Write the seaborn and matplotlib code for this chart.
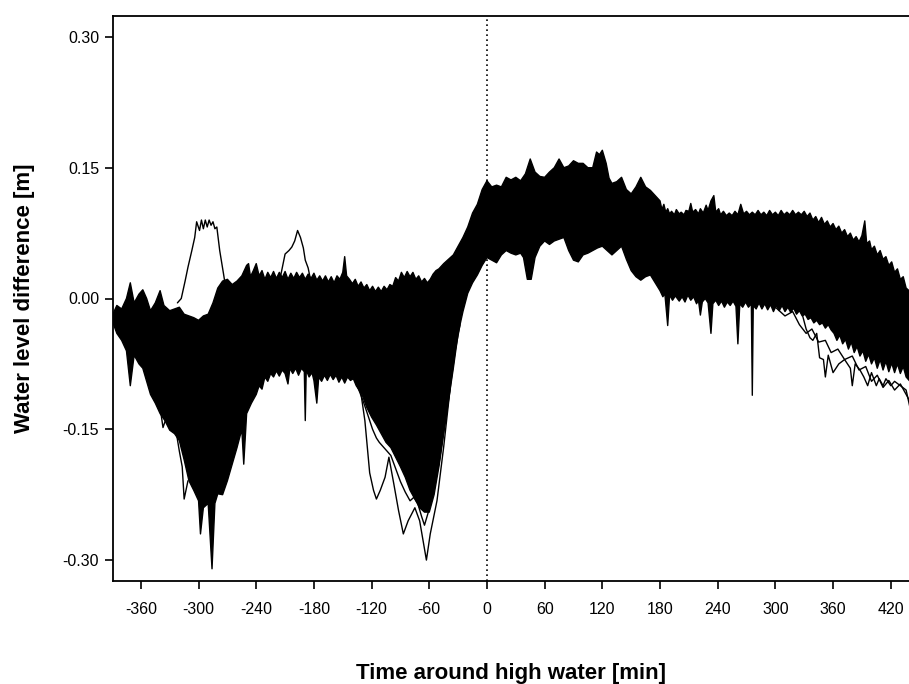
import numpy as np
import pandas as pd
import matplotlib
matplotlib.use("Agg")
import matplotlib.pyplot as plt
import seaborn as sns

# ---------------- data ----------------
# upper edge of the dense band of traces  (time [min], level [m])
band_upper_t = [-390, -385, -380, -375, -371, -367, -362, -358, -354, -350, -345, -340, -336, -330,
                -325, -320, -315, -310, -305, -300, -295, -290, -285, -280, -275, -270, -265, -260,
                -255, -250, -248, -246, -243, -240, -237, -234, -231, -228, -225, -222, -219, -216,
                -213, -210, -207, -204, -201, -198, -195, -192, -189, -186, -183, -180, -177, -174,
                -171, -168, -165, -162, -159, -156, -153, -150, -148, -146, -143, -140, -137, -134,
                -131, -128, -125, -122, -119, -116, -113, -110, -107, -104, -101, -98, -95, -92, -89,
                -86, -83, -80, -77, -74, -71, -68, -65, -62, -59, -56, -53, -50, -45,
                -40, -35, -30, -25, -20, -15, -10, -5, 0, 5, 10, 15, 20, 25, 30, 35, 40, 45, 50, 55,
                60, 65, 70, 75, 80, 85, 90, 95, 100, 105, 110, 114, 117, 120, 124, 127, 130, 135,
                140, 145, 150, 155, 160, 165, 170, 175,
                180, 182, 184, 186, 188, 190, 192, 195, 197, 200, 202, 205, 207, 210, 212, 214, 217,
                220, 222, 225, 228, 230, 233, 236, 238, 241, 243, 246, 249, 252, 255, 258, 261, 264,
                267, 270, 273, 276, 279, 282, 285, 288, 291, 294, 297, 300, 303, 306, 309, 312, 315,
                318, 321, 324, 327, 330, 333, 336, 339, 342, 345, 348, 351, 354, 357, 360, 363, 366,
                369, 372, 375, 378, 381, 384, 387, 390, 393, 395, 398, 400, 403, 406, 409, 412, 415,
                418, 421, 424, 427, 430, 433, 436, 440]
band_upper_v = [-0.020, -0.008, -0.012, 0.000, 0.018, -0.005, 0.005, 0.010, 0.000, -0.014, -0.005,
                0.009, -0.008, -0.014, -0.012, -0.010, -0.018, -0.020, -0.022, -0.025, -0.020, -0.018,
                -0.005, 0.012, 0.020, 0.022, 0.016, 0.020, 0.026,
                0.038, 0.040, 0.025, 0.032, 0.040, 0.026, 0.032, 0.022, 0.030, 0.024, 0.031, 0.023,
                0.030, 0.024, 0.031, 0.022, 0.029, 0.023, 0.030, 0.024, 0.029, 0.022, 0.028, 0.023,
                0.029, 0.021, 0.026, 0.020, 0.026, 0.019, 0.025, 0.018, 0.026, 0.022, 0.030, 0.048,
                0.026, 0.022, 0.017, 0.022, 0.014, 0.019, 0.012, 0.016, 0.009, 0.014, 0.008, 0.013,
                0.008, 0.014, 0.010, 0.016, 0.014, 0.024, 0.020, 0.030, 0.024, 0.031, 0.025, 0.030,
                0.022, 0.026, 0.019, 0.023, 0.018, 0.022, 0.028, 0.032, 0.034, 0.040,
                0.045, 0.050, 0.060, 0.070, 0.082, 0.098, 0.108, 0.125, 0.135, 0.128,
                0.130, 0.128, 0.139, 0.136, 0.139, 0.135, 0.143, 0.160, 0.145, 0.140, 0.139, 0.145,
                0.150, 0.160, 0.150, 0.152, 0.158, 0.155, 0.155, 0.150, 0.150, 0.168, 0.165, 0.170,
                0.155, 0.138, 0.132, 0.134, 0.139, 0.125, 0.120, 0.128, 0.139, 0.128, 0.124, 0.118,
                0.112, 0.102, 0.108, 0.099, 0.103, 0.097, 0.100, 0.096, 0.102, 0.097, 0.099, 0.096,
                0.101, 0.100, 0.109, 0.099, 0.102, 0.097, 0.103, 0.098, 0.107, 0.101, 0.112, 0.118,
                0.099, 0.103, 0.096, 0.100, 0.095, 0.098, 0.095, 0.100, 0.096, 0.108, 0.097, 0.100,
                0.096, 0.099, 0.096, 0.101, 0.096, 0.099, 0.095, 0.101, 0.096, 0.099, 0.095, 0.101,
                0.096, 0.099, 0.096, 0.101, 0.096, 0.099, 0.096, 0.100, 0.094, 0.098, 0.090, 0.094,
                0.087, 0.093, 0.085, 0.089, 0.082, 0.086, 0.079, 0.083, 0.075, 0.079, 0.071, 0.075,
                0.067, 0.071, 0.065, 0.072, 0.089, 0.063, 0.066, 0.056, 0.060, 0.050, 0.055, 0.045,
                0.048, 0.038, 0.042, 0.030, 0.034, 0.022, 0.025, 0.012, 0.008]

# lower edge of the dense band of traces
band_lower_t = [-390, -385, -380, -375, -371, -367, -362, -358, -354, -350, -345, -340, -335, -330,
                -325, -320, -315, -310, -305, -300, -298, -295, -290, -286, -283, -280, -275, -270,
                -265, -260, -255, -253, -250, -245,
                -240, -237, -234, -231, -228, -225, -222, -219, -216, -213, -210, -207, -205, -202,
                -199, -196, -193, -190, -189, -188, -185, -182, -180, -177, -175, -172, -169, -166,
                -163, -160, -157, -154, -151, -148, -145, -142, -139, -136,
                -130, -125, -120, -115, -110, -105, -100, -95, -90, -85, -80, -75,
                -70, -65, -60, -55, -50, -45, -40, -35, -30, -25, -20, -15, -10, -5, 0, 5, 10, 15, 20,
                25, 30, 35, 38, 42, 46, 50, 55, 60, 65, 70, 75, 80, 85, 90, 95, 100, 105, 110, 115,
                120, 125, 130, 135, 140, 145, 150, 155, 160, 165, 170, 175,
                180, 183, 185, 188, 190, 193, 196, 200, 203, 206, 209, 212, 215, 218, 220, 222, 224,
                227, 230, 233, 235, 238, 241, 244, 247, 250, 253, 256, 259, 261, 263, 266, 269, 272,
                275, 276, 277, 280, 283, 286, 289, 292, 295, 298, 301, 304, 307, 310, 313, 316, 319,
                322, 325, 328, 331, 334, 337, 340, 343, 346, 349, 352, 355, 358, 361, 364, 367, 370,
                373, 376, 379, 382, 385, 388, 391, 394, 397, 400, 403, 406, 409, 412, 415, 418, 421,
                424, 427, 430, 433, 436, 440]
band_lower_v = [-0.025, -0.040, -0.048, -0.060, -0.100, -0.065, -0.075, -0.080, -0.095, -0.110,
                -0.120, -0.132, -0.140, -0.151, -0.155, -0.163, -0.185, -0.209, -0.220, -0.232,
                -0.270, -0.240, -0.235, -0.310, -0.235, -0.224, -0.225, -0.209, -0.190, -0.171,
                -0.150, -0.190, -0.132, -0.120,
                -0.110, -0.100, -0.104, -0.090, -0.095, -0.086, -0.090, -0.083, -0.089, -0.082,
                -0.086, -0.098, -0.080, -0.086, -0.080, -0.088, -0.080, -0.084, -0.140, -0.082,
                -0.090, -0.085, -0.094, -0.120, -0.090, -0.095, -0.088, -0.094, -0.087, -0.093,
                -0.088, -0.096, -0.090, -0.097, -0.090, -0.094, -0.092, -0.100,
                -0.110, -0.125, -0.136, -0.145, -0.155, -0.165, -0.171, -0.182, -0.193, -0.205,
                -0.220, -0.230, -0.240, -0.245, -0.245, -0.225, -0.193, -0.155, -0.117, -0.080,
                -0.040, -0.015, 0.006, 0.018, 0.027, 0.038, 0.047, 0.044, 0.041, 0.050, 0.055, 0.052,
                0.050, 0.052, 0.047, 0.022, 0.022, 0.047, 0.060, 0.066, 0.062, 0.066, 0.068, 0.070,
                0.055, 0.044, 0.042, 0.050, 0.052, 0.055, 0.058, 0.060, 0.055, 0.050, 0.055, 0.060,
                0.045, 0.032, 0.025, 0.021, 0.025, 0.027, 0.018,
                0.009, 0.002, 0.006, -0.031, 0.004, -0.002, 0.003, -0.003, 0.002, -0.004, 0.004,
                -0.002, 0.002, -0.006, -0.002, -0.019, -0.004, 0.000, -0.005, -0.040, -0.006, -0.002,
                -0.008, -0.003, -0.010, -0.004, -0.008, -0.003, -0.009, -0.052, -0.006, -0.010,
                -0.004, -0.010, -0.006, -0.111, -0.008, -0.012, -0.005, -0.012, -0.006, -0.013,
                -0.007, -0.015, -0.008, -0.014, -0.008, -0.015, -0.010, -0.016, -0.011, -0.018,
                -0.014, -0.020, -0.018, -0.024, -0.022, -0.028, -0.025, -0.030, -0.028, -0.034,
                -0.030, -0.036, -0.040, -0.048, -0.042, -0.052, -0.047, -0.058, -0.050,
                -0.062, -0.055, -0.066, -0.060, -0.072, -0.064, -0.075, -0.068, -0.080, -0.070,
                -0.082, -0.072, -0.084, -0.074, -0.085, -0.075, -0.086, -0.078, -0.090, -0.095]

# individual traces that leave the band
bump_early_t = [-322, -318, -314, -311, -307, -304, -302, -299, -297, -295, -293, -291, -289, -287,
                -285, -283, -281, -278, -274, -270]
bump_early_v = [-0.005, 0.000, 0.020, 0.036, 0.055, 0.070, 0.088, 0.078, 0.090, 0.080, 0.090, 0.082,
                0.090, 0.084, 0.088, 0.080, 0.082, 0.055, 0.028, 0.000]

bump_mid_t = [-220, -215, -210, -206, -203, -200, -197, -194, -191, -189, -186, -184, -180]
bump_mid_v = [0.010, 0.024, 0.051, 0.055, 0.059, 0.066, 0.078, 0.070, 0.058, 0.044, 0.035, 0.024, 0.015]

dip_a_t = [-140, -132, -127, -122, -118, -115, -111, -106, -102, -97, -92, -87, -82, -75, -70, -63,
           -59, -52, -45, -38, -33, -28]
dip_a_v = [-0.080, -0.102, -0.140, -0.200, -0.220, -0.230, -0.220, -0.205, -0.182, -0.212, -0.243,
           -0.270, -0.255, -0.240, -0.255, -0.300, -0.270, -0.232, -0.170, -0.100, -0.060, -0.030]

dip_b_t = [-140, -135, -129, -125, -119, -115, -112, -108, -104, -100, -95, -90, -85, -80, -76, -72,
           -68, -65, -61, -58, -54, -50, -46, -42, -38]
dip_b_v = [-0.085, -0.100, -0.117, -0.130, -0.150, -0.160, -0.165, -0.170, -0.175, -0.180, -0.195,
           -0.210, -0.222, -0.232, -0.228, -0.235, -0.250, -0.260, -0.245, -0.230, -0.210, -0.190,
           -0.160, -0.130, -0.100]

early_low_t = [-385, -382, -378, -373, -367, -361, -354, -347, -340, -337, -333, -330, -326, -323,
               -320, -317, -315, -311]
early_low_v = [-0.010, -0.020, -0.040, -0.067, -0.050, -0.060, -0.071, -0.105, -0.125, -0.148, -0.135,
               -0.140, -0.150, -0.155, -0.175, -0.193, -0.230, -0.209]

tail_a_t = [320, 326, 332, 336, 339, 343, 346, 350, 352, 355, 360, 366, 372, 378, 380, 383, 388,
            392, 396, 400, 405, 408, 412, 415, 420, 424, 430, 436, 440]
tail_a_v = [-0.012, -0.010, -0.035, -0.045, -0.048, -0.040, -0.068, -0.070, -0.090, -0.065, -0.085,
            -0.075, -0.070, -0.080, -0.100, -0.075, -0.082, -0.090, -0.100, -0.085, -0.100, -0.092,
            -0.100, -0.092, -0.100, -0.095, -0.100, -0.105, -0.125]

tail_b_t = [300, 310, 318, 325, 332, 338, 345, 352, 358, 365, 372, 380, 387, 394, 400, 406, 412,
            418, 424, 430, 436, 440]
tail_b_v = [-0.010, -0.020, -0.015, -0.030, -0.040, -0.035, -0.050, -0.048, -0.062, -0.058, -0.070,
            -0.066, -0.082, -0.078, -0.095, -0.088, -0.102, -0.094, -0.105, -0.098, -0.110, -0.118]

x_ticks = [-360, -300, -240, -180, -120, -60, 0, 60, 120, 180, 240, 300, 360, 420]
y_ticks = [-0.30, -0.15, 0.00, 0.15, 0.30]
y_tick_labels = ["-0.30", "-0.15", "0.00", "0.15", "0.30"]
x_label = "Time around high water [min]"
y_label = "Water level difference [m]"

# ---------------- figure ----------------
sns.set_theme(style="ticks")
plt.rcParams["font.family"] = ["Liberation Sans", "DejaVu Sans"]

fig = plt.figure(figsize=(9.09, 6.84), dpi=100)
ax = fig.add_axes([113 / 909, 103 / 684, 796 / 909, 565 / 684])

# dense band
poly_t = np.concatenate([band_upper_t, band_lower_t[::-1]])
poly_v = np.concatenate([band_upper_v, band_lower_v[::-1]])
ax.fill(poly_t, poly_v, color="black", lw=0)

traces = {
    "upper": (band_upper_t, band_upper_v),
    "lower": (band_lower_t, band_lower_v),
    "bump_early": (bump_early_t, bump_early_v),
    "bump_mid": (bump_mid_t, bump_mid_v),
    "dip_a": (dip_a_t, dip_a_v),
    "dip_b": (dip_b_t, dip_b_v),
    "early_low": (early_low_t, early_low_v),
    "tail_a": (tail_a_t, tail_a_v),
    "tail_b": (tail_b_t, tail_b_v),
}
frames = []
for name, (t, v) in traces.items():
    frames.append(pd.DataFrame({"t": t, "v": v, "trace": name}))
df = pd.concat(frames, ignore_index=True)
sns.lineplot(data=df, x="t", y="v", units="trace", estimator=None, sort=False,
             color="black", lw=1.0, ax=ax, legend=False)

ax.axvline(0, color="black", lw=1.2, ls=(0, (1, 2)))

ax.set_xlim(-389, 439)
ax.set_ylim(-0.324, 0.324)
ax.set_xticks(x_ticks)
ax.set_xticklabels([str(v) for v in x_ticks])
ax.set_yticks(y_ticks)
ax.set_yticklabels(y_tick_labels)

for side in ["left", "bottom", "top"]:
    ax.spines[side].set_visible(True)
    ax.spines[side].set_color("black")
    ax.spines[side].set_linewidth(1.3)
ax.spines["right"].set_visible(False)

ax.tick_params(axis="both", direction="out", length=6, width=1.2, color="black",
               labelsize=11.5, labelcolor="black")
ax.tick_params(axis="x", pad=9)
ax.tick_params(axis="y", pad=4)

ax.set_xlabel(x_label, fontsize=16, fontweight="bold", labelpad=33, color="black")
ax.set_ylabel(y_label, fontsize=16, fontweight="bold", labelpad=20, color="black")

fig.savefig("out.png", dpi=100, facecolor="white")
